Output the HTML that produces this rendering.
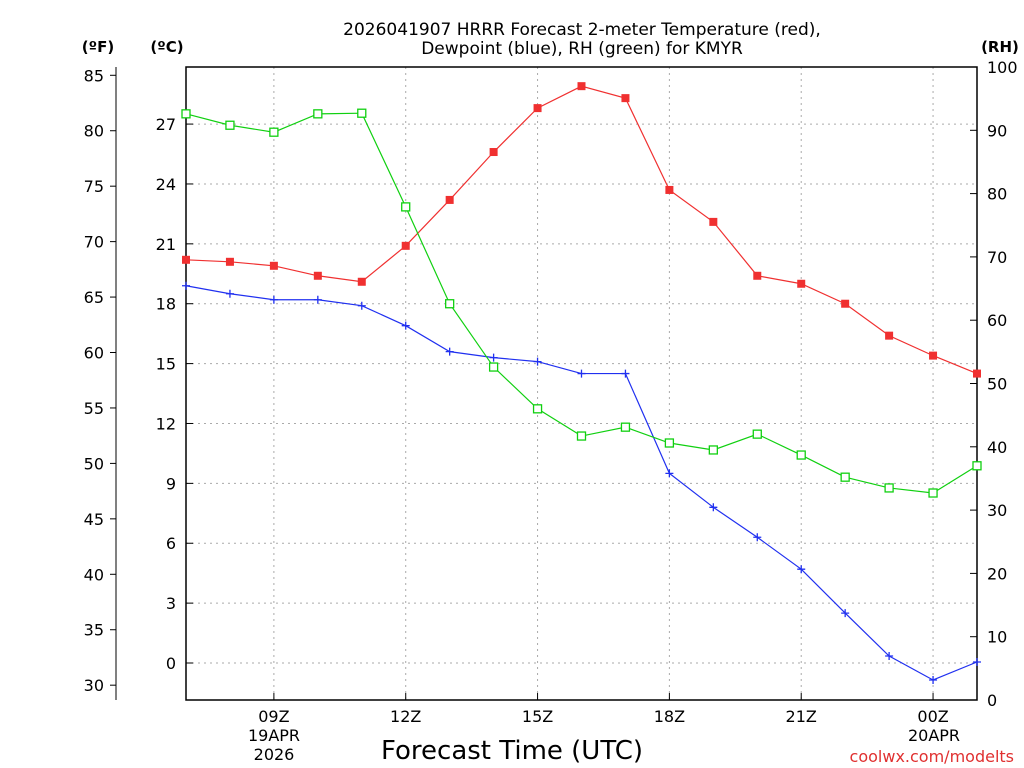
<!DOCTYPE html>
<html><head><meta charset="utf-8"><style>
body{margin:0;background:#fff;}
svg{display:block;font-family:"DejaVu Sans","Liberation Sans",sans-serif;}
</style></head><body>
<svg id="chart" width="1024" height="768">
<g id="grid"></g>
<g id="axes"></g>
<g id="series"></g>
<text x="582" y="35" text-anchor="middle" font-size="17">2026041907 HRRR Forecast 2-meter Temperature (red),</text>
<text x="582" y="54" text-anchor="middle" font-size="17">Dewpoint (blue), RH (green) for KMYR</text>
<text x="98" y="52" text-anchor="middle" font-size="15" font-weight="bold">(ºF)</text>
<text x="167" y="52" text-anchor="middle" font-size="15" font-weight="bold">(ºC)</text>
<text x="1000" y="52" text-anchor="middle" font-size="15" font-weight="bold">(RH)</text>
<text x="512" y="759" text-anchor="middle" font-size="26">Forecast Time (UTC)</text>
<text x="1014" y="762" text-anchor="end" font-size="16" fill="#e03030">coolwx.com/modelts</text>
</svg>
<script>
const hours = [7,8,9,10,11,12,13,14,15,16,17,18,19,20,21,22,23,24,25];
const tempC = [20.2,20.1,19.9,19.4,19.1,20.9,23.2,25.6,27.8,28.9,28.3,23.7,22.1,19.4,19.0,18.0,16.4,15.4,14.5];
const dewC = [18.9,18.5,18.2,18.2,17.9,16.9,15.6,15.3,15.1,14.5,14.5,9.5,7.8,6.3,4.7,2.5,0.35,-0.85,0.05];
const rh = [92.6,90.8,89.7,92.6,92.7,77.9,62.6,52.6,46.0,41.7,43.1,40.6,39.5,42.0,38.7,35.2,33.5,32.7,37.0];
const cTicks = [0,3,6,9,12,15,18,21,24,27];
const fTicks = [30,35,40,45,50,55,60,65,70,75,80,85];
const rhTicks = [0,10,20,30,40,50,60,70,80,90,100];
const xTicks = [9,12,15,18,21,24];
const xLabels = ["09Z","12Z","15Z","18Z","21Z","00Z"];

const L=186,R=977,T=67,B=700;
const xS=h=>L+(h-7)*(R-L)/18;
const yC=c=>663-c*19.96;
const yF=f=>yC((f-32)*5/9);
const yR=r=>B-r*(B-T)/100;
const NS="http://www.w3.org/2000/svg";
function mk(p,tag,at){const e=document.createElementNS(NS,tag);for(const k in at)e.setAttribute(k,at[k]);p.appendChild(e);return e;}
const grid=document.getElementById('grid'),axes=document.getElementById('axes'),ser=document.getElementById('series');

cTicks.forEach(c=>{
 const y=yC(c);
 const g=mk(grid,'line',{x1:L,x2:R,y1:y,y2:y,stroke:'#aaa','stroke-dasharray':'2,4'});
 
 
 mk(axes,'line',{x1:L,x2:L+7,y1:y,y2:y,stroke:'#000'});
 const t=mk(axes,'text',{x:176,y:y+6,'text-anchor':'end','font-size':16});t.textContent=c;
 
 
});
xTicks.forEach((h,i)=>{
 const x=xS(h);
 const g=mk(grid,'line',{x1:x,x2:x,y1:T,y2:B,stroke:'#aaa','stroke-dasharray':'2,4'});
 
 
 mk(axes,'line',{x1:x,x2:x,y1:B,y2:B-7,stroke:'#000'});
 const t=mk(axes,'text',{x:x,y:722,'text-anchor':'middle','font-size':16});t.textContent=xLabels[i];
 
 
});
[["19APR",274,741],["2026",274,760],["20APR",934,741]].forEach(d=>{
 const t=mk(axes,'text',{x:d[1],y:d[2],'text-anchor':'middle','font-size':16});t.textContent=d[0];
 
 
});
mk(axes,'line',{x1:116,x2:116,y1:T,y2:B,stroke:'#000'});
fTicks.forEach(f=>{
 const y=yF(f);
 mk(axes,'line',{x1:110,x2:116,y1:y,y2:y,stroke:'#000'});
 const t=mk(axes,'text',{x:104,y:y+6,'text-anchor':'end','font-size':16});t.textContent=f;
 
 
});
rhTicks.forEach(r=>{
 const y=yR(r);
 mk(axes,'line',{x1:R-7,x2:R,y1:y,y2:y,stroke:'#000'});
 const t=mk(axes,'text',{x:987,y:y+6,'font-size':16});t.textContent=r;
 
 
});
mk(axes,'rect',{x:L,y:T,width:R-L,height:B-T,fill:'none',stroke:'#000','stroke-width':1.5});

function line(vals,yf,color,name){
 const pts=vals.map((v,i)=>xS(hours[i])+','+yf(v)).join(' ');
 const p=mk(ser,'polyline',{points:pts,fill:'none',stroke:color,'stroke-width':1.2});
 
 
}
line(tempC,yC,'#f03030','temperature-line');
line(dewC,yC,'#2030f0','dewpoint-line');
line(rh,yR,'#10d010','rh-line');
tempC.forEach((v,i)=>{
 const m=mk(ser,'rect',{x:xS(hours[i])-4,y:yC(v)-4,width:8,height:8,fill:'#f03030'});
 
 
});
dewC.forEach((v,i)=>{
 const x=xS(hours[i]),y=yC(v);
 const m=mk(ser,'path',{d:`M${x-4},${y}H${x+4}M${x},${y-4}V${y+4}`,stroke:'#2030f0','stroke-width':1.3});
 
 
});
rh.forEach((v,i)=>{
 const m=mk(ser,'rect',{x:xS(hours[i])-4,y:yR(v)-4,width:8,height:8,fill:'#fff',stroke:'#10d010','stroke-width':1.3});
 
 
});
</script>
</body></html>
